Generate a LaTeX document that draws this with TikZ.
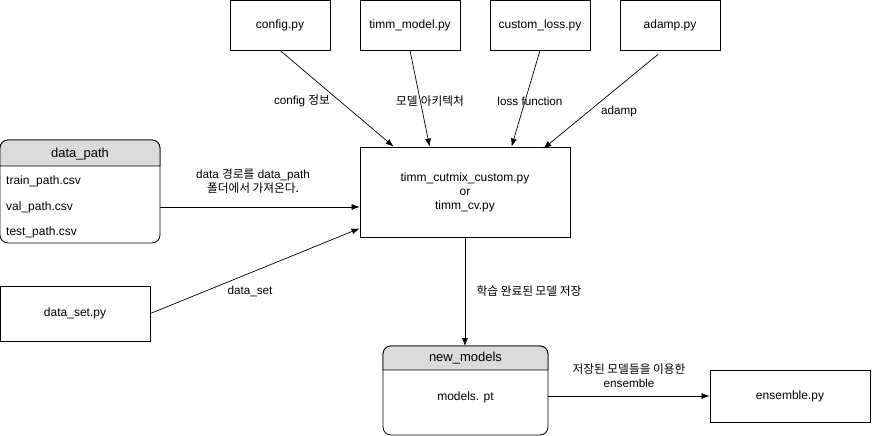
\documentclass[tikz,border=0pt]{standalone}
\usepackage{fontspec}
\setmainfont{Liberation Sans}
\newfontfamily\kr{Noto Sans CJK KR}
\usetikzlibrary{arrows.meta,calc}
\tikzset{
  file/.style={draw, line width=0.8pt, minimum width=100pt, minimum height=50pt, align=center, inner sep=0pt},
  arr/.style={-{Latex[length=8pt,width=6pt]}, line width=0.7pt},
  lbl/.style={align=center, inner sep=0pt, font=\fontsize{11.7}{14}\selectfont},
  item/.style={inner sep=0pt, font=\fontsize{12}{14}\selectfont},
  head/.style={fill=black!14, line width=0.8pt},
}
\begin{document}
\begin{tikzpicture}[x=1pt,y=-1pt,font=\fontsize{12}{14}\selectfont]
  \useasboundingbox (0,0) rectangle (881,436);

  % source files on top
  \node[file] (cfg) at (280,25) {config.py};
  \node[file] (tm) at (410,25) {timm\_model.py};
  \node[file] (cl) at (540,25) {custom\_loss.py};
  \node[file] (adamp) at (670,25) {adamp.py};

  % training script
  \node[file, minimum width=210pt, minimum height=90pt] (main) at (465,192)
    {timm\_cutmix\_custom.py\\or\\timm\_cv.py};

  % data_path folder
  \draw[line width=0.8pt, rounded corners=8pt] (0,140) rectangle (160,243);
  \draw[head] (0,166) [rounded corners=8pt] -- (0,140) -- (160,140) [sharp corners] -- (160,166) -- cycle;
  \node[item, font=\fontsize{13}{15}\selectfont] (pathhead) at (80,154) {data\_path};
  \node[item, anchor=west] (train) at (6,181) {train\_path.csv};
  \node[item, anchor=west] (val) at (6,207) {val\_path.csv};
  \node[item, anchor=west] (test) at (6,232) {test\_path.csv};
  \coordinate (path) at (160,207);

  \node[file, minimum width=150pt, minimum height=55pt] (dset) at (75,313.5) {data\_set.py};

  % saved models folder
  \draw[line width=0.8pt, rounded corners=8pt] (383,346) rectangle (548,435);
  \draw[head] (383,370) [rounded corners=8pt] -- (383,346) -- (548,346) [sharp corners] -- (548,370) -- cycle;
  \node[item, font=\fontsize{13}{15}\selectfont] (nmhead) at (465.5,358) {new\_models};
  \node[item] (pt) at (465.5,397) {models. pt};
  \coordinate (nm) at (548,396);
  \coordinate (nmtop) at (465,346);

  \node[file, minimum width=160pt, minimum height=52pt] (ens) at (790,396) {ensemble.py};

  % connectors
  \draw[arr] (cfg.south) -- ($(main.north west)+(34,0)$);
  \draw[arr] (tm.south) -- ($(main.north west)+(70,0)$);
  \draw[arr] (cl.south) -- ($(main.north west)+(152,0)$);
  \draw[arr] ($(adamp.south)+(-12,4)$) -- ($(main.north east)+(-27,2)$);
  \draw[arr] (path) -- (main.west |- path);
  \draw[arr] (dset.east) -- ($(main.south west)+(0,-9)$);
  \draw[arr] (main.south) -- (nmtop);
  \draw[arr] (nm) -- (ens.west);

  % connector labels
  \node[lbl] (l1) at (302,101) {config {\kr 정보}};
  \node[lbl] (l2) at (430,101) {{\kr 모델}\ {\kr 아키텍처}};
  \node[lbl] (l3) at (530,101) {loss function};
  \node[lbl] (l4) at (619,111) {adamp};
  \node[lbl] (l5) at (253,181) {data {\kr 경로를} data\_path\\{\kr 폴더에서 가져온다.}};
  \node[lbl] (l6) at (250,291) {data\_set};
  \node[lbl] (l7) at (529,291) {\kr 학습 완료된 모델 저장};
  \node[lbl] (l8) at (629,376) {{\kr 저장된 모델들을 이용한}\\ensemble};
\end{tikzpicture}
\end{document}
